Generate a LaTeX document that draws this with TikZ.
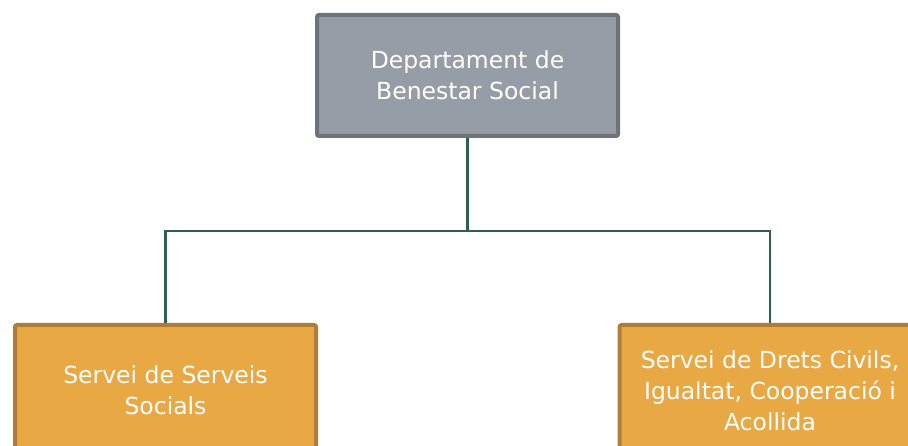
\documentclass[tikz,border=0pt]{standalone}
\usepackage{fontspec}
\setmainfont{DejaVu Sans}
\begin{document}
\begin{tikzpicture}[x=1pt,y=-1pt,
  every node/.style={font=\fontsize{23.5}{31}\selectfont, text=white, align=center, inner sep=0pt},
  graybox/.style={draw=boxgrayline, fill=boxgray, line width=4pt, rounded corners=2pt, minimum width=301pt, minimum height=121pt},
  orangebox/.style={draw=boxorangeline, fill=boxorange, line width=4pt, rounded corners=2pt, minimum width=301pt, minimum height=131pt},
  conn/.style={draw=connline, line width=2.2pt}]
\definecolor{boxgray}{HTML}{969DA6}
\definecolor{boxgrayline}{HTML}{6C7379}
\definecolor{boxorange}{HTML}{E8A844}
\definecolor{boxorangeline}{HTML}{AF7D36}
\definecolor{connline}{HTML}{2F5F50}
\useasboundingbox (0,0) rectangle (908,446);
\clip (0,0) rectangle (908,446);
\node[graybox] (top) at (467.5,75.5) {Departament de\\Benestar Social};
\node[orangebox] (left) at (165.5,390.5) {Servei de Serveis\\Socials};
\node[orangebox] (right) at (770,390.5) {Servei de Drets Civils,\\Igualtat, Cooperació i\\Acollida};
\coordinate (mid) at (467.5,231);
\draw[conn] (top.south) -- (mid) -| (left.north);
\draw[conn] (mid) -| (right.north);
\end{tikzpicture}
\end{document}
